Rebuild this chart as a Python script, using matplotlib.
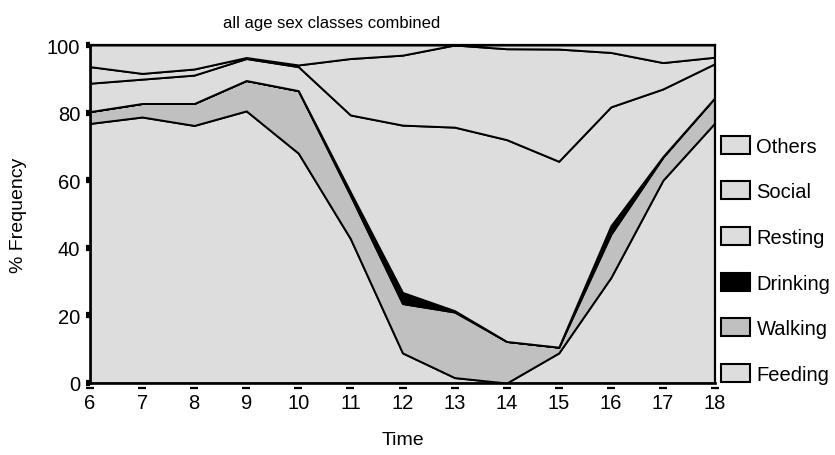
import matplotlib
matplotlib.use("Agg")
import matplotlib.pyplot as plt
from matplotlib.patches import Patch
import numpy as np

plt.rcParams['font.family'] = ['Liberation Sans', 'DejaVu Sans']

hours = [6, 7, 8, 9, 10, 11, 12, 13, 14, 15, 16, 17, 18]
feeding  = [76.8, 78.7, 76.2, 80.5, 68.0, 42.7, 8.9, 1.6, 0.0, 8.9, 31.2, 60.0, 77.0]
walking  = [3.5, 4.0, 6.5, 9.0, 18.5, 12.8, 14.6, 19.4, 12.3, 1.7, 12.8, 6.8, 7.5]
drinking = [0.0, 0.0, 0.0, 0.0, 0.0, 1.0, 3.3, 0.4, 0.0, 0.0, 2.5, 0.2, 0.0]
resting  = [8.4, 7.2, 8.4, 6.5, 7.1, 22.8, 49.5, 54.3, 59.7, 55.0, 35.2, 20.0, 10.0]
social   = [4.9, 1.7, 1.8, 0.3, 0.5, 16.7, 20.7, 24.3, 26.9, 33.2, 16.1, 7.8, 1.9]
others   = [6.4, 8.4, 7.1, 3.7, 5.9, 4.0, 3.0, 0.0, 1.1, 1.2, 2.2, 5.2, 3.6]

labels = ['Feeding', 'Walking', 'Drinking', 'Resting', 'Social', 'Others']
light = '#dddddd'
colors = [light, '#c0c0c0', '#000000', light, light, light]
yticks = [0, 20, 40, 60, 80, 100]

fig = plt.figure(figsize=(8.35, 4.56), dpi=100)
ax = fig.add_axes([90/835, 1 - 384/456, 625/835, 338/456])

ax.stackplot(hours, feeding, walking, drinking, resting, social, others,
             colors=colors, edgecolor='black', linewidth=1.4)

ax.set_xlim(6, 18)
ax.set_ylim(0, 100)
ax.set_xticks(hours)
ax.set_yticks(yticks)

for side in ['left', 'bottom']:
    ax.spines[side].set_linewidth(1.9)
for side in ['top', 'right']:
    ax.spines[side].set_linewidth(1.6)

ax.tick_params(axis='y', direction='out', length=3, width=4.5, pad=4, labelsize=14.5)
ax.tick_params(axis='x', length=0, pad=7, labelsize=14.5)

# horizontal dash tick marks under the x axis
ax.plot(hours, np.full(len(hours), -4.5 / 338), transform=ax.get_xaxis_transform(),
        marker='_', ms=5.5, mew=1.6, ls='none', color='black', clip_on=False)

fig.text(332/835, 1 - 24/456, 'all age sex classes combined', fontsize=12,
         ha='center', va='center')
ax.set_xlabel('Time', fontsize=14, labelpad=14)
ax.set_ylabel('% Frequency', fontsize=14, labelpad=14)

handles = [Patch(facecolor=c, edgecolor='black', linewidth=1.5) for c in colors]
leg = fig.legend(handles[::-1], labels[::-1], loc='center left',
                 bbox_to_anchor=(0.864, 0.428), frameon=False, fontsize=14.5,
                 handlelength=1.44, handleheight=1.0, handletextpad=0.3,
                 labelspacing=1.28, borderpad=0, borderaxespad=0)

fig.savefig('out.png', dpi=100)
